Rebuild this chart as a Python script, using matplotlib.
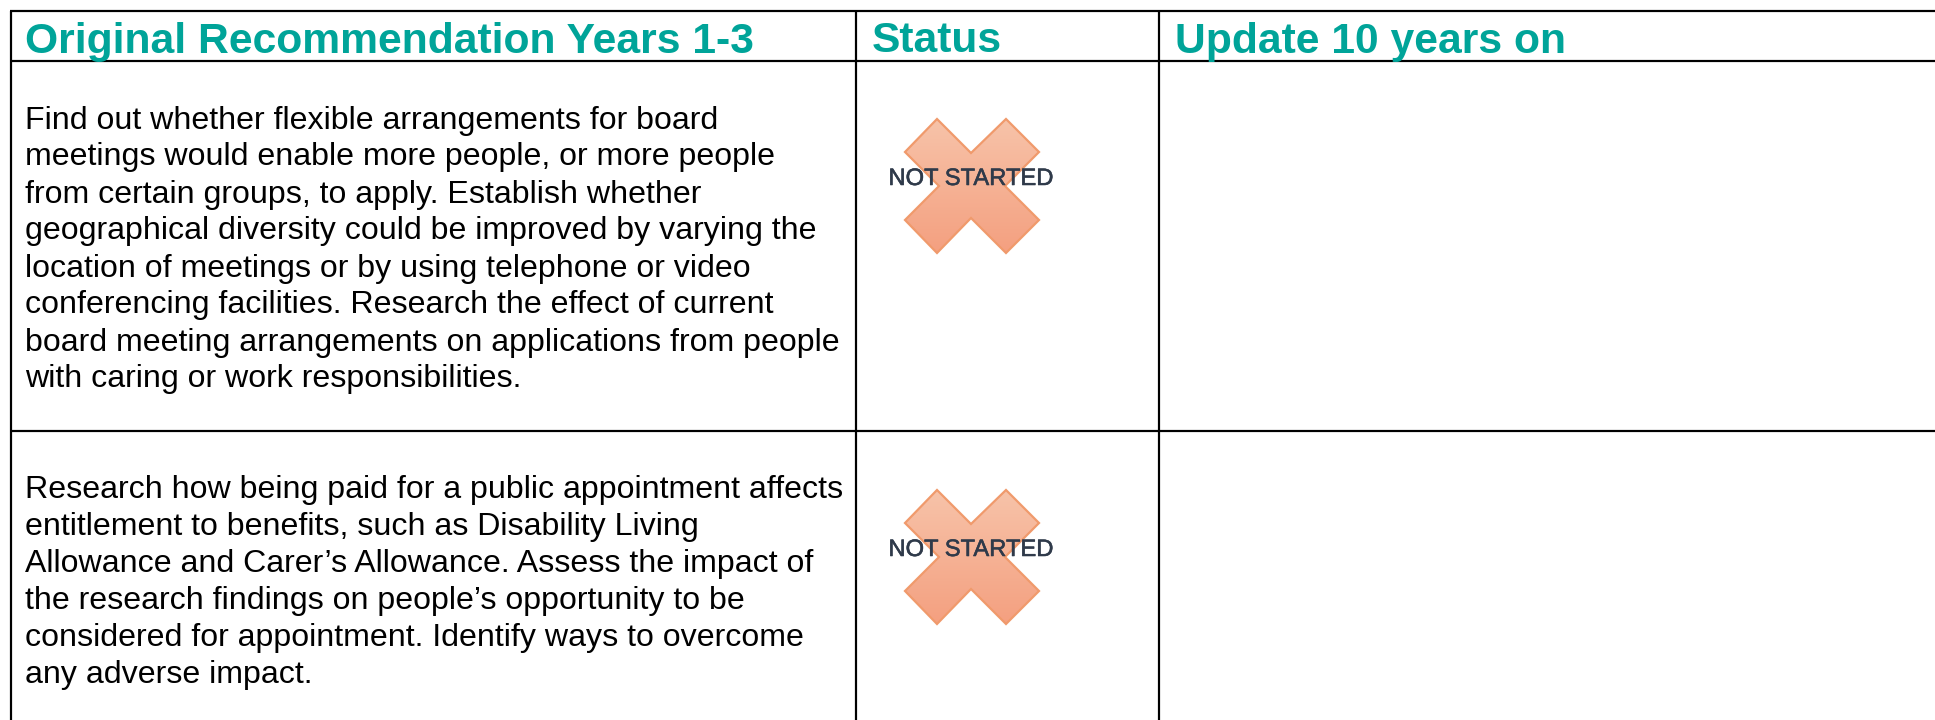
import matplotlib
matplotlib.use("Agg")
import matplotlib.pyplot as plt
import matplotlib.patheffects as pe
import numpy as np
from matplotlib.patches import Polygon

plt.rcParams['font.family'] = ['Liberation Sans', 'DejaVu Sans']

headers = ["Original Recommendation Years 1-3", "Status", "Update 10 years on"]
status_text = "NOT STARTED"
row_texts = [
    ["Find out whether flexible arrangements for board",
     "meetings would enable more people, or more people",
     "from certain groups, to apply. Establish whether",
     "geographical diversity could be improved by varying the",
     "location of meetings or by using telephone or video",
     "conferencing facilities. Research the effect of current",
     "board meeting arrangements on applications from people",
     "with caring or work responsibilities."],
    ["Research how being paid for a public appointment affects",
     "entitlement to benefits, such as Disability Living",
     "Allowance and Carer\u2019s Allowance. Assess the impact of",
     "the research findings on people\u2019s opportunity to be",
     "considered for appointment. Identify ways to overcome",
     "any adverse impact."],
]

TEAL = "#00a499"
LINE_H = 37.0

fig = plt.figure(figsize=(19.35, 7.2), dpi=100)
ax = fig.add_axes([0, 0, 1, 1])
ax.set_xlim(0, 1935)
ax.set_ylim(720, 0)
ax.axis("off")

# table rules
lw = 2.2 * 72 / 100
for y in (11.4, 61.4, 431.4):
    ax.plot([9.5, 1935], [y, y], color="black", lw=lw, solid_capstyle="butt")
for x in (10.6, 856.4, 1159.4):
    ax.plot([x, x], [10.5, 720], color="black", lw=lw, solid_capstyle="butt")

# header row
for x, label in zip((25, 872, 1175), headers):
    ax.text(x, 52.5, label, color=TEAL, fontsize=30.7, fontweight="bold", va="baseline")

# body text
for first_base, lines in zip((128.5, 498), row_texts):
    for i, line in enumerate(lines):
        ax.text(25, first_base + i * LINE_H, line, color="black", fontsize=23.1, va="baseline")


def draw_cross(dy):
    shape = np.array([(937, 119), (971, 153), (1006, 119), (1039, 152), (1005, 186),
                      (1039, 220), (1006, 253), (971, 218), (937, 253), (905, 220),
                      (939, 186), (905, 152)], dtype=float)
    shape[:, 1] += dy
    grad = np.linspace(0, 1, 64)[:, None, None]
    top = np.array([0xf7, 0xc3, 0xa9]) / 255
    bot = np.array([0xf4, 0xa0, 0x80]) / 255
    img = top + (bot - top) * grad
    im = ax.imshow(img, extent=(905, 1039, 253 + dy, 119 + dy), aspect="auto", zorder=2,
                   interpolation="bilinear")
    patch = Polygon(shape, closed=True, facecolor="none", edgecolor="#f09a6c", lw=1.6, zorder=3)
    ax.add_patch(patch)
    im.set_clip_path(patch)
    txt = ax.text(971, 185 + dy, status_text, color="#2f3a4a", fontsize=17.1, ha="center",
                  va="baseline", zorder=4)
    txt.set_path_effects([pe.withStroke(linewidth=0.4, foreground="#2f3a4a")])


for dy in (0, 371):
    draw_cross(dy)

ax.set_xlim(0, 1935)
ax.set_ylim(720, 0)
fig.savefig("out.png", dpi=100)
